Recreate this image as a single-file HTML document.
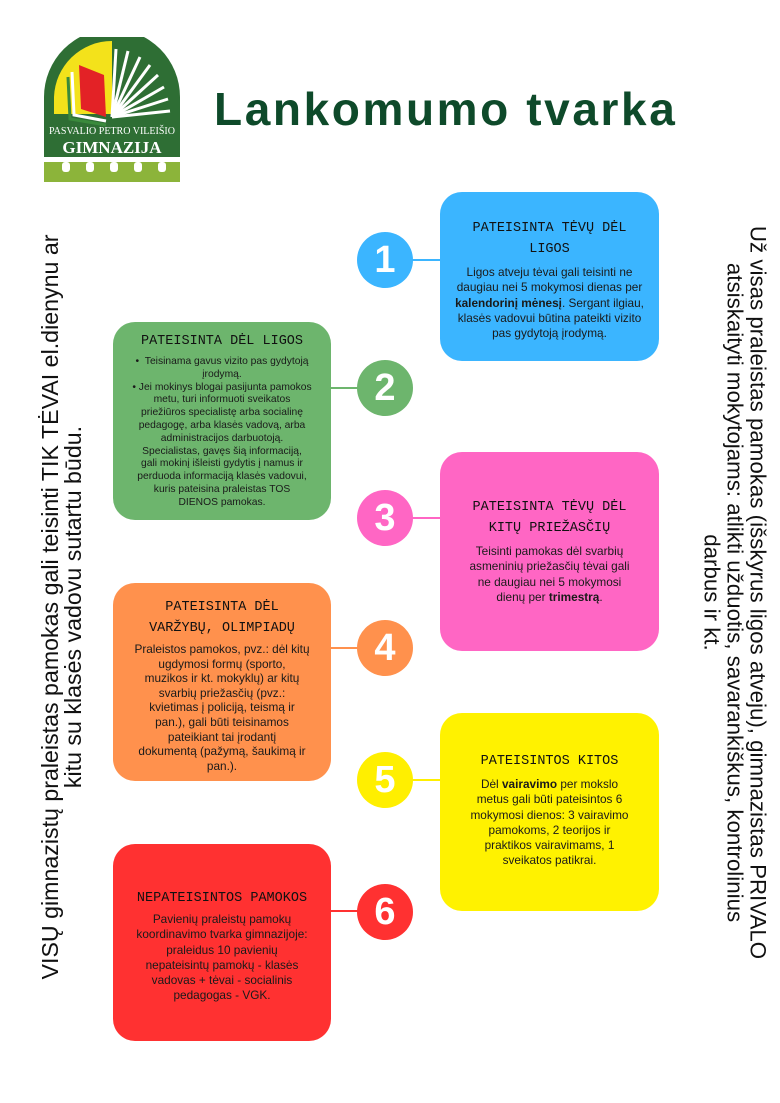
<!DOCTYPE html>
<html><head><meta charset="utf-8">
<style>
*{margin:0;padding:0;box-sizing:border-box}
body{width:780px;height:1103px;background:#fff;position:relative;overflow:hidden;font-family:"Liberation Sans",sans-serif}
.box{position:absolute;border-radius:22px;text-align:center;color:#1a1a1a}
.box h3{font-family:"Liberation Mono",monospace;font-weight:normal;font-size:13.5px;line-height:21px;color:#111;margin-bottom:5px;white-space:nowrap}
.box p{font-size:11.8px;line-height:15.3px;white-space:nowrap}
.circ{position:absolute;width:56px;height:56px;border-radius:50%;color:#fff;font-weight:bold;font-size:38px;line-height:56px;text-align:center;font-family:"Liberation Sans",sans-serif}
.ln{position:absolute;height:2px}
.rot{position:absolute;white-space:nowrap;text-align:center;color:#111;line-height:23px}
.gl{font-size:10.3px;line-height:12.8px;white-space:nowrap;text-align:center}
</style></head><body>

<svg style="position:absolute;left:44px;top:37px" width="136" height="145" viewBox="0 0 136 145">
<path d="M0 120 V60 A68 68 0 0 1 136 60 V120 Z" fill="#2e6e34"/>
<path d="M10 77 V60 A58 58 0 0 1 68 4 V77 Z" fill="#f3e21b"/>
<path d="M35 28 L60 38 L62 80 L37 72 Z" fill="#e32226"/>
<path d="M28 35 L30 78 L62 84" fill="none" stroke="#fff" stroke-width="3"/>
<path d="M24 40 L26 82 L62 88" fill="none" stroke="#3a8a3c" stroke-width="3"/>
<g stroke="#fff" stroke-width="3">
<line x1="68" y1="80" x2="72" y2="12"/><line x1="68" y1="80" x2="84" y2="14"/><line x1="68" y1="80" x2="96" y2="20"/><line x1="68" y1="80" x2="106" y2="28"/><line x1="68" y1="80" x2="114" y2="38"/><line x1="68" y1="80" x2="120" y2="50"/><line x1="68" y1="80" x2="124" y2="62"/><line x1="68" y1="80" x2="126" y2="74"/>
</g>
<text x="68" y="97" font-family="Liberation Serif,serif" font-size="10" fill="#fff" text-anchor="middle">PASVALIO PETRO VILEIŠIO</text>
<text x="68" y="116" font-family="Liberation Serif,serif" font-size="17" font-weight="bold" fill="#fff" text-anchor="middle">GIMNAZIJA</text>
<rect x="0" y="125" width="136" height="20" fill="#8cb43a"/>
<g fill="#fff"><rect x="18" y="125" width="8" height="10" rx="3"/><rect x="42" y="125" width="8" height="10" rx="3"/><rect x="66" y="125" width="8" height="10" rx="3"/><rect x="90" y="125" width="8" height="10" rx="3"/><rect x="114" y="125" width="8" height="10" rx="3"/></g>
</svg>

<div style="position:absolute;left:214px;top:82px;font-size:46px;font-weight:bold;color:#0e4a2a;letter-spacing:2.6px;font-family:'Liberation Sans',sans-serif">Lankomumo tvarka</div>

<div class="rot" style="left:-333px;top:584px;width:790px;height:46px;font-size:23.2px;transform:rotate(-90deg)">VISŲ gimnazistų praleistas pamokas gali teisinti TIK TĖVAI el.dienynu ar<br>kitu su klasės vadovu sutartu būdu.</div>
<div class="rot" style="left:340px;top:558px;width:790px;height:69px;font-size:22.3px;transform:rotate(90deg)">Už visas praleistas pamokas (išskyrus ligos atveju), gimnazistas PRIVALO<br>atsiskaityti mokytojams: atlikti užduotis, savarankiškus, kontrolinius<br>darbus ir kt.</div>

<div class="ln" style="left:412px;top:259px;width:30px;background:#3bb5ff"></div>
<div class="ln" style="left:328px;top:387px;width:30px;background:#6db56d"></div>
<div class="ln" style="left:412px;top:517px;width:30px;background:#ff66c4"></div>
<div class="ln" style="left:328px;top:647px;width:30px;background:#ff914d"></div>
<div class="ln" style="left:412px;top:779px;width:30px;background:#ffef00"></div>
<div class="ln" style="left:328px;top:910px;width:30px;background:#ff3131"></div>

<div class="circ" style="left:357px;top:232px;background:#3bb5ff">1</div>
<div class="circ" style="left:357px;top:360px;background:#6db56d">2</div>
<div class="circ" style="left:357px;top:490px;background:#ff66c4">3</div>
<div class="circ" style="left:357px;top:620px;background:#ff914d">4</div>
<div class="circ" style="left:357px;top:752px;background:#ffef00">5</div>
<div class="circ" style="left:357px;top:884px;background:#ff3131">6</div>

<div class="box" style="left:440px;top:192px;width:219px;height:169px;background:#3bb5ff;padding:26px 0 0">
<h3>PATEISINTA TĖVŲ DĖL<br>LIGOS</h3>
<p>Ligos atveju tėvai gali teisinti ne<br>daugiau nei 5 mokymosi dienas per<br><b>kalendorinį mėnesį</b>. Sergant ilgiau,<br>klasės vadovui būtina pateikti vizito<br>pas gydytoją įrodymą.</p>
</div>

<div class="box" style="left:113px;top:322px;width:218px;height:198px;background:#6db56d;padding:9px 0 0">
<h3 style="margin-bottom:4px">PATEISINTA DĖL LIGOS</h3>
<div class="gl">• &nbsp;Teisinama gavus vizito pas gydytoją<br>įrodymą.<br>• Jei mokinys blogai pasijunta pamokos<br>metu, turi informuoti sveikatos<br>priežiūros specialistę arba socialinę<br>pedagogę, arba klasės vadovą, arba<br>administracijos darbuotoją.<br>Specialistas, gavęs šią informaciją,<br>gali mokinį išleisti gydytis į namus ir<br>perduoda informaciją klasės vadovui,<br>kuris pateisina praleistas TOS<br>DIENOS pamokas.</div>
</div>

<div class="box" style="left:113px;top:583px;width:218px;height:198px;background:#ff914d;padding:14px 0 0">
<h3 style="margin-bottom:3px">PATEISINTA DĖL<br>VARŽYBŲ, OLIMPIADŲ</h3>
<p style="line-height:14.6px">Praleistos pamokos, pvz.: dėl kitų<br>ugdymosi formų (sporto,<br>muzikos ir kt. mokyklų) ar kitų<br>svarbių priežasčių (pvz.:<br>kvietimas į policiją, teismą ir<br>pan.), gali būti teisinamos<br>pateikiant tai įrodantį<br>dokumentą (pažymą, šaukimą ir<br>pan.).</p>
</div>

<div class="box" style="left:440px;top:452px;width:219px;height:199px;background:#ff66c4;padding:45px 0 0">
<h3>PATEISINTA TĖVŲ DĖL<br>KITŲ PRIEŽASČIŲ</h3>
<p>Teisinti pamokas dėl svarbių<br>asmeninių priežasčių tėvai gali<br>ne daugiau nei 5 mokymosi<br>dienų per <b>trimestrą</b>.</p>
</div>

<div class="box" style="left:440px;top:713px;width:219px;height:198px;background:#fff200;padding:38px 0 0">
<h3>PATEISINTOS KITOS</h3>
<p>Dėl <b>vairavimo</b> per mokslo<br>metus gali būti pateisintos 6<br>mokymosi dienos: 3 vairavimo<br>pamokoms, 2 teorijos ir<br>praktikos vairavimams, 1<br>sveikatos patikrai.</p>
</div>

<div class="box" style="left:113px;top:844px;width:218px;height:197px;background:#ff3131;padding:44px 0 0">
<h3 style="margin-bottom:3px">NEPATEISINTOS PAMOKOS</h3>
<p>Pavienių praleistų pamokų<br>koordinavimo tvarka gimnazijoje:<br>praleidus 10 pavienių<br>nepateisintų pamokų - klasės<br>vadovas + tėvai - socialinis<br>pedagogas - VGK.</p>
</div>

</body></html>
